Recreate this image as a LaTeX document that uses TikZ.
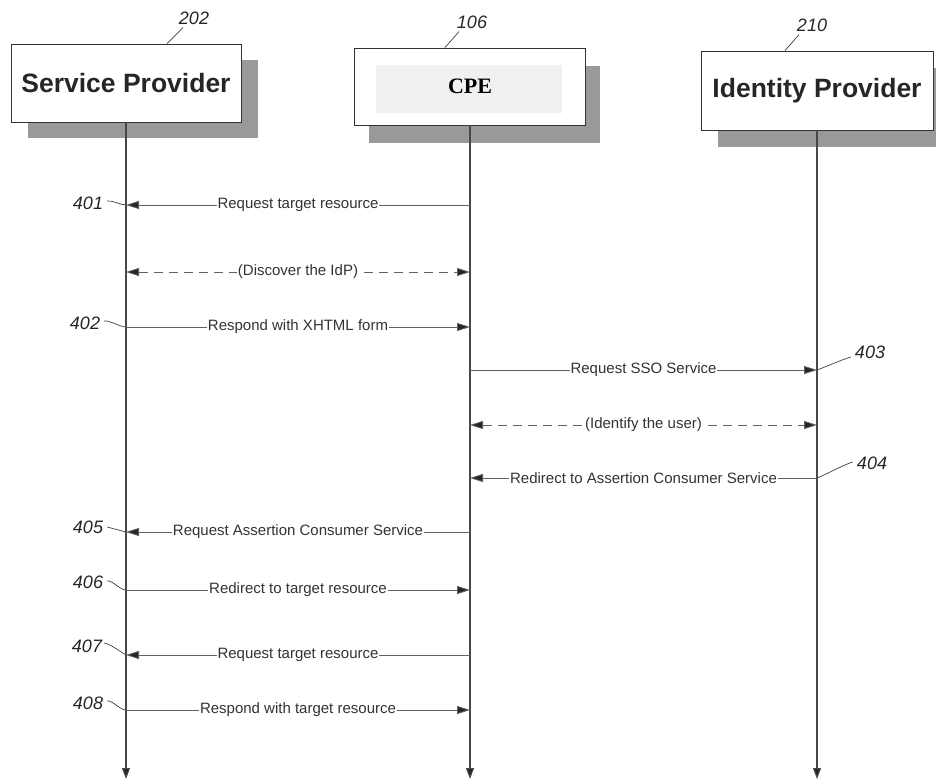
\documentclass[tikz,border=0pt]{standalone}
\usepackage{fontspec}
\setmainfont{Liberation Sans}
\newfontfamily\cpefont{Liberation Serif}
\usetikzlibrary{arrows.meta,shadows,calc}

\begin{document}
\begin{tikzpicture}[x=1pt,y=-1pt,
  actor/.style={draw=black!80, line width=0.9pt, fill=white, inner sep=0pt,
    minimum width=230pt, minimum height=78pt,
    font=\fontsize{26.5}{28}\selectfont\bfseries, text=black!85},
  lifeline/.style={draw=black!72, line width=1.1pt, -{Triangle[length=11pt,width=8pt,fill=black!85]}},
  msg/.style={draw=black!62, line width=0.8pt},
  tipend/.style={-{Triangle[length=13pt,width=8pt,fill=black!85]}},
  tipboth/.style={{Triangle[length=13pt,width=8pt,fill=black!85]}-{Triangle[length=13pt,width=8pt,fill=black!85]}},
  dashmsg/.style={msg, dash pattern=on 9pt off 6pt},
  lbl/.style={fill=white, inner sep=1pt, font=\fontsize{15}{17}\selectfont, text=black!80},
  refnum/.style={font=\fontsize{18}{20}\selectfont\itshape, text=black!85, inner sep=0pt},
  leader/.style={draw=black!75, line width=0.7pt}
]
\useasboundingbox (0,0) rectangle (936,782);

% ---- participants ----
\node[actor, drop shadow={shadow xshift=17pt, shadow yshift=-16pt, fill=black!40, opacity=1}]
  (sp) at (126,83) {Service Provider};
\node[actor, minimum width=231pt, minimum height=77pt,
  drop shadow={shadow xshift=14pt, shadow yshift=-18pt, fill=black!40, opacity=1}]
  (cpe) at (470,86.5) {};
\fill[black!6] (376,65) rectangle (562,113);
\node[font=\fontsize{22}{24}\selectfont\cpefont\bfseries] (cpetext) at (cpe) {CPE};
\node[actor, minimum width=232pt, minimum height=79pt,
  drop shadow={shadow xshift=17pt, shadow yshift=-17pt, fill=black!40, opacity=1}]
  (idp) at (817,90.5) {Identity Provider};

% ---- reference numerals of the participants ----
\node[refnum] (n202) at (194,18) {202};
\node[refnum] (n106) at (472,22) {106};
\node[refnum] (n210) at (812,25) {210};
\draw[leader] ($(n202.south)+(-11,3)$) -- ($(sp.north)+(41,0)$);
\draw[leader] ($(n106.south)+(-13,3)$) -- ($(cpe.north)+(-25,0)$);
\draw[leader] ($(n210.south)+(-13,3)$) -- ($(idp.north)+(-32,0)$);

% ---- lifelines ----
\coordinate (spend) at (126,779);
\coordinate (cpeend) at (470,779);
\coordinate (idpend) at (817,779);
\draw[lifeline] (sp.south) -- (spend);
\draw[lifeline] (cpe.south) -- (cpeend);
\draw[lifeline] (idp.south) -- (idpend);

% ---- message anchor points on the lifelines ----
\coordinate (sp1) at (126,205);  \coordinate (cpe1) at (470,205);
\coordinate (sp2) at (126,272);  \coordinate (cpe2) at (470,272);
\coordinate (sp3) at (126,327);  \coordinate (cpe3) at (470,327);
\coordinate (cpe4) at (470,370); \coordinate (idp4) at (817,370);
\coordinate (cpe5) at (470,425); \coordinate (idp5) at (817,425);
\coordinate (cpe6) at (470,478); \coordinate (idp6) at (817,478);
\coordinate (sp7) at (126,532);  \coordinate (cpe7) at (470,532);
\coordinate (sp8) at (126,590);  \coordinate (cpe8) at (470,590);
\coordinate (sp9) at (126,655);  \coordinate (cpe9) at (470,655);
\coordinate (sp10) at (126,710); \coordinate (cpe10) at (470,710);

% ---- messages ----
\draw[msg, tipend] (cpe1) -- node[lbl] (m1) {Request target resource} (sp1);
\draw[dashmsg, tipboth] (sp2) -- node[lbl] (m2) {(Discover the IdP)} (cpe2);
\draw[msg, tipend] (sp3) -- node[lbl] (m3) {Respond with XHTML form} (cpe3);
\draw[msg, tipend] (cpe4) -- node[lbl] (m4) {Request SSO Service} (idp4);
\draw[dashmsg, tipboth] (cpe5) -- node[lbl] (m5) {(Identify the user)} (idp5);
\draw[msg, tipend] (idp6) -- node[lbl] (m6) {Redirect to Assertion Consumer Service} (cpe6);
\draw[msg, tipend] (cpe7) -- node[lbl] (m7) {Request Assertion Consumer Service} (sp7);
\draw[msg, tipend] (sp8) -- node[lbl] (m8) {Redirect to target resource} (cpe8);
\draw[msg, tipend] (cpe9) -- node[lbl] (m9) {Request target resource} (sp9);
\draw[msg, tipend] (sp10) -- node[lbl] (m10) {Respond with target resource} (cpe10);

% ---- step numerals with their leaders ----
\node[refnum] (n401) at (88,203) {401};
\node[refnum] (n402) at (85,323) {402};
\node[refnum] (n403) at (870,352) {403};
\node[refnum] (n404) at (872,463) {404};
\node[refnum] (n405) at (88,527) {405};
\node[refnum] (n406) at (88,582) {406};
\node[refnum] (n407) at (87,646) {407};
\node[refnum] (n408) at (88,703) {408};

\draw[leader] ($(n401.east)+(4,-2)$) .. controls +(5,-1) and +(-6,0) .. (sp1);
\draw[leader] ($(n402.east)+(4,-2)$) .. controls +(5,-1) and +(-6,0) .. (sp3);
\draw[leader] ($(n403.west)+(-4,5)$) .. controls +(-10,3) and +(6,-2) .. (idp4);
\draw[leader] ($(n404.west)+(-4,-1)$) .. controls +(-10,3) and +(6,-2) .. (idp6);
\draw[leader] ($(n405.east)+(4,0)$) -- (sp7);
\draw[leader] ($(n406.east)+(4,-1)$) .. controls +(5,-1) and +(-6,0) .. (sp8);
\draw[leader] ($(n407.east)+(2,-3)$) .. controls +(6,1) and +(-5,-3) .. (sp9);
\draw[leader] ($(n408.east)+(4,-2)$) .. controls +(5,-1) and +(-6,0) .. (sp10);
\end{tikzpicture}
\end{document}
